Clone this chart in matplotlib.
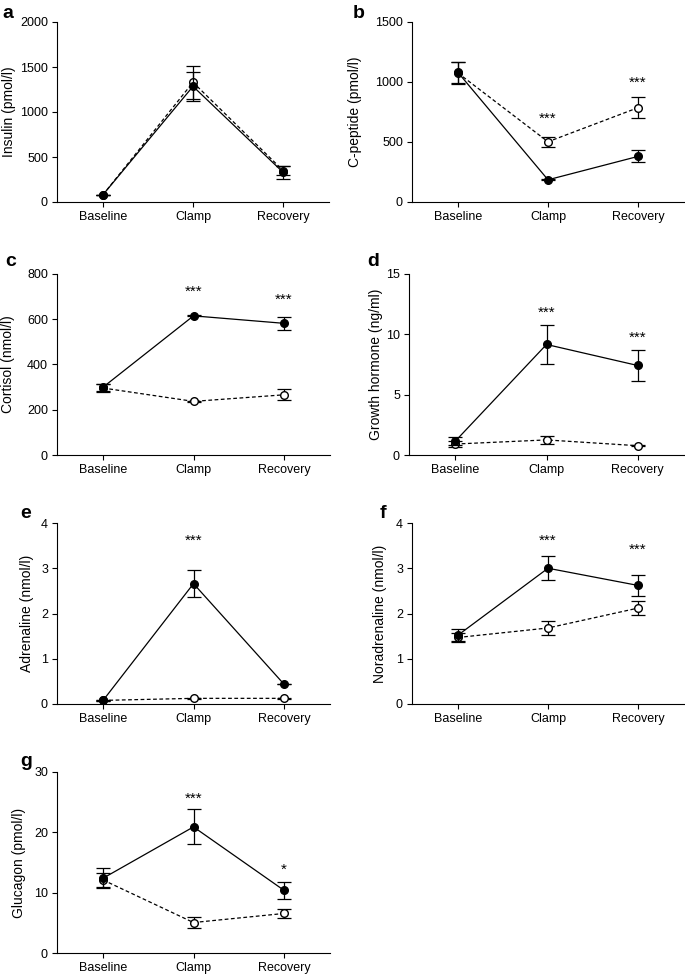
import matplotlib
matplotlib.use("Agg")
import matplotlib.pyplot as plt

plt.rcParams['font.family'] = ['Liberation Sans', 'DejaVu Sans']

categories = ["Baseline", "Clamp", "Recovery"]

# filled circles / solid line (hypoglycaemia) and open circles / dashed line (euglycaemia)
insulin_hypo = [80, 1285, 330]
insulin_hypo_err = [3, 165, 70]
insulin_eu = [80, 1330, 350]
insulin_eu_err = [3, 185, 50]

cpep_hypo = [1080, 185, 380]
cpep_hypo_err = [90, 3, 50]
cpep_eu = [1075, 502, 786]
cpep_eu_err = [90, 42, 88]

cortisol_hypo = [300, 615, 582]
cortisol_hypo_err = [16, 2, 30]
cortisol_eu = [296, 237, 266]
cortisol_eu_err = [16, 2, 24]

gh_hypo = [1.16, 9.16, 7.42]
gh_hypo_err = [0.3, 1.63, 1.25]
gh_eu = [0.91, 1.25, 0.77]
gh_eu_err = [0.25, 0.3, 0.02]

adr_hypo = [0.08, 2.66, 0.44]
adr_hypo_err = [0.005, 0.30, 0.005]
adr_eu = [0.08, 0.125, 0.125]
adr_eu_err = [0.005, 0.005, 0.005]

noradr_hypo = [1.52, 3.00, 2.62]
noradr_hypo_err = [0.13, 0.26, 0.24]
noradr_eu = [1.47, 1.68, 2.12]
noradr_eu_err = [0.10, 0.16, 0.16]

glucagon_hypo = [12.4, 20.9, 10.4]
glucagon_hypo_err = [1.65, 2.9, 1.4]
glucagon_eu = [12.1, 5.05, 6.55]
glucagon_eu_err = [1.2, 0.9, 0.8]

panels = [
    ("a", "Insulin (pmol/l)", insulin_hypo, insulin_hypo_err, insulin_eu, insulin_eu_err,
     [0, 500, 1000, 1500, 2000], []),
    ("b", "C-peptide (pmol/l)", cpep_hypo, cpep_hypo_err, cpep_eu, cpep_eu_err,
     [0, 500, 1000, 1500], [(1, 695, "***"), (2, 990, "***")]),
    ("c", "Cortisol (nmol/l)", cortisol_hypo, cortisol_hypo_err, cortisol_eu, cortisol_eu_err,
     [0, 200, 400, 600, 800], [(1, 720, "***"), (2, 684, "***")]),
    ("d", "Growth hormone (ng/ml)", gh_hypo, gh_hypo_err, gh_eu, gh_eu_err,
     [0, 5, 10, 15], [(1, 11.8, "***"), (2, 9.7, "***")]),
    ("e", "Adrenaline (nmol/l)", adr_hypo, adr_hypo_err, adr_eu, adr_eu_err,
     [0, 1, 2, 3, 4], [(1, 3.6, "***")]),
    ("f", "Noradrenaline (nmol/l)", noradr_hypo, noradr_hypo_err, noradr_eu, noradr_eu_err,
     [0, 1, 2, 3, 4], [(1, 3.6, "***"), (2, 3.41, "***")]),
    ("g", "Glucagon (pmol/l)", glucagon_hypo, glucagon_hypo_err, glucagon_eu, glucagon_eu_err,
     [0, 10, 20, 30], [(1, 25.6, "***"), (2, 13.75, "*")]),
]

W, H = 685, 974
# axes rectangles in pixels: left, top, right, bottom
rects = [
    (57, 22, 329, 202), (412, 22, 684, 202),
    (57, 274, 330, 455), (409, 274, 684, 455),
    (57, 523, 330, 704), (412, 523, 684, 704),
    (57, 772, 330, 953),
]
ylabel_x = [9, 355, 8, 376, 27, 380, 19]
label_pos = [(2, 14), (353, 14), (5, 262), (367, 262), (20, 514), (380, 514), (20, 762)]

fig = plt.figure(figsize=(W / 100, H / 100), dpi=100)
x = list(range(len(categories)))
eb_kw = dict(fmt='none', ecolor='black', capsize=5, elinewidth=0.9, capthick=0.9)

for (letter, ylabel, hy, hye, eu, eue, yticks, stars), (l, t, r, b), (lx, ly), yx in zip(
        panels, rects, label_pos, ylabel_x):
    ax = fig.add_axes([l / W, 1 - b / H, (r - l) / W, (b - t) / H])
    ax.errorbar(x, eu, yerr=eue, zorder=2, **eb_kw)
    ax.plot(x, eu, marker='o', linestyle=(0, (3, 2)), color='black', lw=0.9,
            mfc='white', mec='black', mew=1.0, ms=5.5, zorder=3)
    ax.errorbar(x, hy, yerr=hye, zorder=4, **eb_kw)
    ax.plot(x, hy, marker='o', linestyle='-', color='black', lw=0.9,
            mfc='black', mec='black', ms=5.5, zorder=5)
    for i, yv, s in stars:
        ax.text(i, yv, s, ha='center', va='center', fontsize=11)
    ax.set_xlim(-0.51, 2.51)
    ax.set_ylim(yticks[0], yticks[-1])
    ax.set_yticks(yticks)
    ax.set_xticks(x)
    ax.set_xticklabels(categories)
    ax.set_ylabel(ylabel, fontsize=10, va='center')
    ax.yaxis.set_label_coords((yx - l) / (r - l), 0.5)
    ax.tick_params(labelsize=9, length=3.5, width=0.8, pad=3)
    for sp in ("top", "right"):
        ax.spines[sp].set_visible(False)
    for sp in ("left", "bottom"):
        ax.spines[sp].set_linewidth(0.8)
    ax.patch.set_alpha(0)
    fig.text(lx / W, 1 - ly / H, letter, fontsize=14, fontweight='bold', ha='left', va='center')

fig.savefig("out.png", dpi=100)
